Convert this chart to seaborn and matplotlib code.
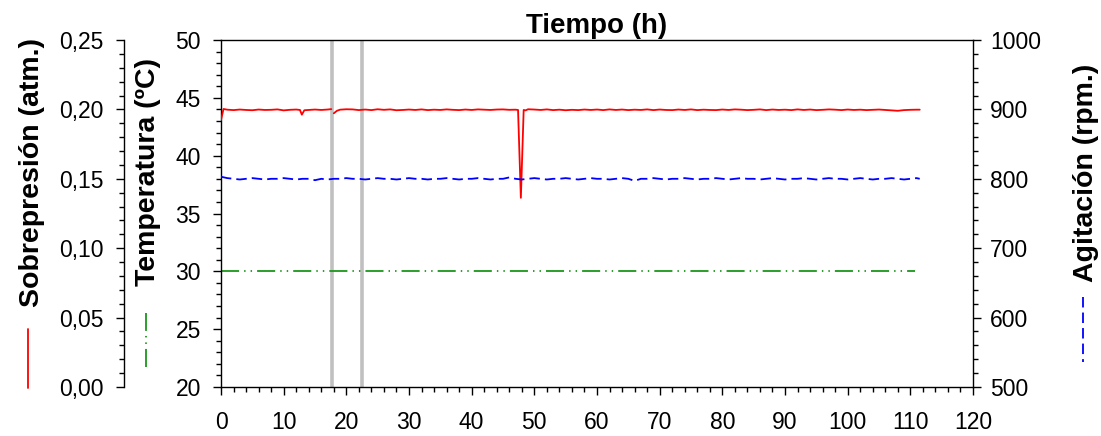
import matplotlib
matplotlib.use("Agg")
import numpy as np
import pandas as pd
import matplotlib.pyplot as plt
from matplotlib.ticker import MultipleLocator, FuncFormatter
from matplotlib.lines import Line2D
import seaborn as sns

# Overpressure log (atm); the recorder stops between 17.6 h and 18.0 h
press_hours_a = [0, 0.4, 1, 2, 3, 4, 5, 6, 7, 8, 9, 10, 11, 12, 12.6, 12.9,
                 13.3, 14, 15, 16, 17, 17.6]
press_atm_a = [0.1924, 0.2003, 0.1998, 0.1995, 0.1999, 0.1996, 0.1994, 0.1999,
               0.1996, 0.1997, 0.2000, 0.1993, 0.1997, 0.1999, 0.1996, 0.1962,
               0.1994, 0.1996, 0.1999, 0.1996, 0.1999, 0.2002]

press_hours_b = [18.0, 18.5, 19, 20, 21, 22, 23, 24, 25, 26, 27, 28, 29,
                 30, 31, 32, 33, 34, 35, 36, 37, 38, 39,
                 40, 41, 42, 43, 44, 45, 46, 47, 47.4, 47.85, 48.3, 48.6, 49,
                 50, 51, 52, 53, 54, 55, 56, 57, 58, 59,
                 60, 61, 62, 63, 64, 65, 66, 67, 68, 69,
                 70, 71, 72, 73, 74, 75, 76, 77, 78, 79,
                 80, 81, 82, 83, 84, 85, 86, 87, 88, 89,
                 90, 91, 92, 93, 94, 95, 96, 97, 98, 99,
                 100, 101, 102, 103, 104, 105, 106, 107, 108, 109,
                 110, 111, 111.5]
press_atm_b = [0.1972, 0.1990, 0.1998, 0.2001, 0.2000, 0.1995, 0.1999, 0.1995, 0.2001, 0.1997, 0.2000, 0.1994, 0.1996,
               0.1999, 0.1996, 0.2000, 0.1995, 0.1998, 0.1996, 0.2000, 0.1997, 0.1995, 0.1999,
               0.1996, 0.2000, 0.1998, 0.1996, 0.1999, 0.2000, 0.1997, 0.1998, 0.1996, 0.1363, 0.1996, 0.1993, 0.2001,
               0.1999, 0.1996, 0.2000, 0.1995, 0.1998, 0.1994, 0.1997, 0.1995, 0.1999, 0.1996,
               0.1999, 0.1995, 0.2000, 0.1996, 0.1999, 0.1995, 0.1998, 0.1996, 0.2000, 0.1995,
               0.1999, 0.1996, 0.1995, 0.1999, 0.1996, 0.2000, 0.1995, 0.1998, 0.1996, 0.1995,
               0.1999, 0.1996, 0.2000, 0.1998, 0.1995, 0.1997, 0.2000, 0.1995, 0.1999, 0.1996,
               0.1998, 0.1995, 0.2000, 0.1996, 0.1999, 0.1995, 0.1997, 0.2000, 0.1998, 0.1995,
               0.1999, 0.1996, 0.1998, 0.1995, 0.1997, 0.1999, 0.1996, 0.1993, 0.1990, 0.1995,
               0.1997, 0.1998, 0.1998]

# Stirring speed (rpm), hourly
agit_hours = list(range(112)) + [111.5]
agit_rpm = [803, 801, 800, 799, 800, 801, 800, 799, 800, 800,
            801, 800, 799, 800, 800, 798, 800, 799, 800, 800,
            801, 800, 800, 799, 800, 801, 800, 800, 799, 800,
            801, 800, 800, 799, 800, 800, 801, 800, 799, 800,
            800, 801, 800, 799, 800, 800, 802, 800, 799, 800,
            801, 800, 799, 800, 800, 801, 800, 799, 800, 801,
            800, 800, 799, 800, 801, 800, 797, 800, 800, 801,
            800, 799, 800, 800, 801, 800, 799, 800, 800, 801,
            800, 799, 800, 801, 800, 800, 799, 800, 801, 800,
            799, 800, 800, 801, 800, 799, 800, 801, 800, 800,
            799, 800, 801, 800, 799, 800, 800, 801, 800, 799,
            800, 801, 800]

# Temperature (ºC)
temp_hours = [0, 10, 20, 30, 40, 50, 60, 70, 80, 90, 100, 110, 110.7]
temp_c = [30.0, 30.0, 30.0, 30.0, 30.0, 30.0, 30.0, 30.0, 30.0, 30.0, 30.0, 30.0, 30.0]

# Sampling events marked with grey bars
event_hours = [17.7, 22.5]

press_df = pd.DataFrame({
    "hours": press_hours_a + press_hours_b,
    "atm": press_atm_a + press_atm_b,
    "segment": [0] * len(press_hours_a) + [1] * len(press_hours_b),
})
agit_df = pd.DataFrame({"hours": agit_hours, "rpm": agit_rpm})
temp_df = pd.DataFrame({"hours": temp_hours, "temp": temp_c})

sns.set_style("ticks")
plt.rcParams["font.family"] = ["Liberation Sans", "DejaVu Sans"]
plt.rcParams.update({
    "axes.linewidth": 1.0,
    "axes.edgecolor": "black",
    "text.color": "black",
    "axes.labelcolor": "black",
    "xtick.color": "black",
    "ytick.color": "black",
})

W, H = 1101, 436
fig = plt.figure(figsize=(W / 100, H / 100), dpi=100)
fig.patch.set_facecolor("white")
ax = fig.add_axes([221 / W, 49 / H, 752 / W, 347 / H])
ax_p = ax.twinx()
ax_a = ax.twinx()

RED, GREEN, BLUE, GREY = "#ff0000", "#1a961a", "#0000ff", "#c0c0c0"
LW = 1.3
TICK_FS = 16.5
green_ls = (0, (10, 2.8, 0.8, 2.8, 0.8, 2.8))
blue_ls = (0, (5.8, 2.8))

for h in event_hours:
    ax.axvline(h, color=GREY, lw=2.6, zorder=1)

sns.lineplot(data=temp_df, x="hours", y="temp", color=GREEN, lw=LW,
             linestyle=green_ls, ax=ax, zorder=2)
sns.lineplot(data=press_df, x="hours", y="atm", units="segment", estimator=None,
             color=RED, lw=LW, ax=ax_p)
sns.lineplot(data=agit_df, x="hours", y="rpm", color=BLUE, lw=LW,
             linestyle=blue_ls, ax=ax_a)

for a in (ax, ax_p, ax_a):
    a.set_xlabel("")
    a.set_ylabel("")

ax.set_xlim(0, 120)
ax.set_ylim(20, 50)
ax_p.set_ylim(0, 0.25)
ax_a.set_ylim(500, 1000)

ax.xaxis.set_major_locator(MultipleLocator(10))
ax.xaxis.set_minor_locator(MultipleLocator(2))
ax.yaxis.set_major_locator(MultipleLocator(5))
ax.yaxis.set_minor_locator(MultipleLocator(1))
ax_p.yaxis.set_major_locator(MultipleLocator(0.05))
ax_p.yaxis.set_minor_locator(MultipleLocator(0.01))
ax_p.yaxis.set_major_formatter(FuncFormatter(lambda v, _: f"{v:.2f}".replace(".", ",")))
ax_a.yaxis.set_major_locator(MultipleLocator(100))
ax_a.yaxis.set_minor_locator(MultipleLocator(20))

# pressure scale sits further out on the left
ax_p.spines["left"].set_position(("axes", -0.129))
ax_p.spines["left"].set_visible(True)
for s in ("right", "top", "bottom"):
    ax_p.spines[s].set_visible(False)
ax_p.yaxis.set_ticks_position("left")
for s in ("left", "top", "bottom"):
    ax_a.spines[s].set_visible(False)
ax.spines["right"].set_visible(False)

ax.tick_params(axis="x", which="major", direction="out", length=6, width=1,
               labelsize=TICK_FS, pad=11, top=False)
ax.tick_params(axis="x", which="minor", direction="out", length=3.5, width=1, top=False)
ax.tick_params(axis="y", which="major", direction="out", length=5.5, width=1,
               labelsize=TICK_FS, pad=9, right=False)
ax.tick_params(axis="y", which="minor", direction="out", length=3.5, width=1, right=False)
ax_p.tick_params(axis="y", which="major", direction="out", length=5.5, width=1,
                 labelsize=TICK_FS, pad=9)
ax_p.tick_params(axis="y", which="minor", direction="out", length=3.5, width=1)
ax_a.tick_params(axis="y", which="major", direction="out", length=5.5, width=1,
                 labelsize=TICK_FS, pad=7)
ax_a.tick_params(axis="y", which="minor", direction="out", length=3.5, width=1)

ax.set_title("Tiempo (h)", fontsize=20, fontweight="bold", pad=5)


def fx(px):
    return px / W


def fy(py):
    return 1 - py / H


fig.text(fx(32), fy(172), "Sobrepresión (atm.)", rotation=90, ha="center", va="center",
         fontsize=20.5, fontweight="bold")
fig.text(fx(148), fy(172), "Temperatura (ºC)", rotation=90, ha="center", va="center",
         fontsize=20.5, fontweight="bold")
fig.text(fx(1086), fy(173), "Agitación (rpm.)", rotation=90, ha="center", va="center",
         fontsize=20.5, fontweight="bold")

# axis-title keys
fig.add_artist(Line2D([fx(28), fx(28)], [fy(388), fy(329)], transform=fig.transFigure,
                      color=RED, lw=LW))
fig.add_artist(Line2D([fx(146), fx(146)], [fy(367), fy(313)], transform=fig.transFigure,
                      color=GREEN, lw=LW, linestyle=green_ls))
fig.add_artist(Line2D([fx(1083), fx(1083)], [fy(297), fy(362)], transform=fig.transFigure,
                      color=BLUE, lw=LW, linestyle=blue_ls))

fig.savefig("out.png", dpi=100, facecolor="white")
